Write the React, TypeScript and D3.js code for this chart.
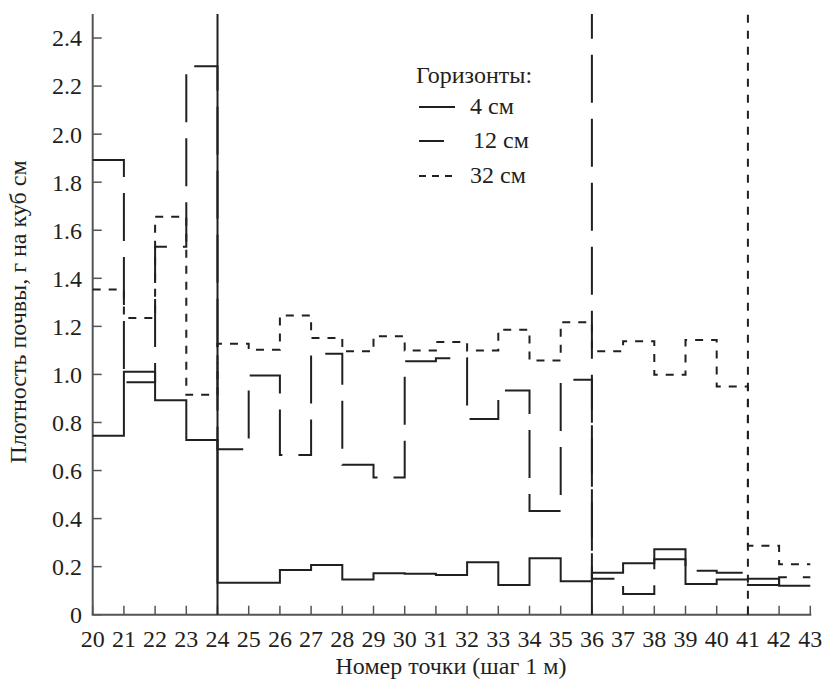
import React from 'react';
import * as d3 from 'd3';

// точки профиля (шаг 1 м)
const points = [20, 21, 22, 23, 24, 25, 26, 27, 28, 29, 30, 31, 32, 33, 34, 35, 36, 37, 38, 39, 40, 41, 42];
const xTicks = [20, 21, 22, 23, 24, 25, 26, 27, 28, 29, 30, 31, 32, 33, 34, 35, 36, 37, 38, 39, 40, 41, 42, 43];
const yTicks = [0, 0.2, 0.4, 0.6, 0.8, 1.0, 1.2, 1.4, 1.6, 1.8, 2.0, 2.2, 2.4];

// плотность почвы по горизонтам, г/куб см
const depth4 = [0.745, 1.011, 0.892, 0.727, 0.133, 0.133, 0.186, 0.207, 0.147, 0.172, 0.170, 0.165, 0.218, 0.124, 0.235, 0.139, 0.175, 0.214, 0.272, 0.128, 0.147, 0.150, 0.121];
const depth12 = [1.892, 0.967, 1.531, 2.283, 0.689, 0.995, 0.665, 1.086, 0.624, 0.571, 1.055, 1.067, 0.814, 0.933, 0.432, 0.978, 0.150, 0.086, 0.231, 0.183, 0.175, 0.124, 0.156];
const depth32 = [1.353, 1.235, 1.656, 0.915, 1.128, 1.103, 1.245, 1.152, 1.096, 1.159, 1.100, 1.135, 1.100, 1.186, 1.058, 1.217, 1.096, 1.138, 0.999, 1.143, 0.950, 0.287, 0.210];

// точки, где значение уходит за верх шкалы
const spikePoints = [24, 36, 41];
const seriesLabels = ['4 см', '12 см', '32 см'];
const dashes = ['none', '48,16', '8,8'];

export default function App() {
  const width = 823;
  const height = 680;
  const ink = '#231f20';
  const txt = {
    fontFamily: "'Liberation Serif', 'Times New Roman', Times, 'DejaVu Serif', serif",
    fontSize: '24px',
    fill: ink,
  };

  const x = d3.scaleLinear().domain([20, 43]).range([92.7, 810.3]);
  const y = d3.scaleLinear().domain([0, 2.5]).range([614.7, 14]);

  const step = d3.line<[number, number]>()
    .x(d => x(d[0]))
    .y(d => y(d[1]))
    .curve(d3.curveStepAfter);

  const series = [depth4, depth12, depth32].map(vals => {
    const pts: [number, number][] = points.map((p, i) => [p, vals[i]]);
    pts.push([43, vals[vals.length - 1]]);
    return pts;
  });

  const legendX = 419;
  const legendRows = [107, 141, 176];
  const legendLen = [36, 25, 38];

  return (
    <svg width={width} height={height} style={{ position: 'absolute', left: 0, top: 0, background: '#fff' }}>
      {/* axes */}
      <line x1={x(20)} x2={x(20)} y1={y(2.5)} y2={y(0)} stroke="#555" strokeWidth={2} />
      <line x1={x(20) - 1} x2={x(43) + 1} y1={y(0)} y2={y(0)} stroke="#555" strokeWidth={2} />
      {xTicks.map(t => (
        <g key={'xt' + t}>
          <line x1={x(t)} x2={x(t)} y1={y(0)} y2={y(0) - 9} stroke="#555" strokeWidth={1.5} />
          <text x={x(t)} y={647} textAnchor="middle" style={txt}>{t}</text>
        </g>
      ))}
      {yTicks.map(t => (
        <g key={'yt' + t}>
          <line x1={x(20)} x2={x(20) + 9} y1={y(t)} y2={y(t)} stroke="#555" strokeWidth={1.5} />
          <text x={82} y={y(t)} dy="0.35em" textAnchor="end" style={txt}>
            {t === 0 ? '0' : t.toFixed(1)}
          </text>
        </g>
      ))}
      <text x={451} y={674} textAnchor="middle" style={txt}>Номер точки (шаг 1 м)</text>
      <text transform={`translate(26,${312}) rotate(-90)`} textAnchor="middle" style={txt}>
        Плотность почвы, г на куб см
      </text>

      {/* series */}
      {series.map((pts, i) => (
        <g key={'s' + i}>
          <path d={step(pts) || ''} fill="none" stroke={ink} strokeWidth={2}
            strokeDasharray={dashes[i]} />
          <line x1={x(spikePoints[i])} x2={x(spikePoints[i])} y1={y(0)} y2={y(2.5)}
            stroke={ink} strokeWidth={2} strokeDasharray={dashes[i]} />
        </g>
      ))}

      {/* legend */}
      <text x={416} y={83} style={txt}>Горизонты:</text>
      {seriesLabels.map((lab, i) => (
        <g key={'lg' + i}>
          <line x1={legendX} x2={legendX + legendLen[i]} y1={legendRows[i]} y2={legendRows[i]}
            stroke={ink} strokeWidth={2} strokeDasharray={i === 2 ? '7,6' : 'none'} />
          <text x={i === 1 ? 473 : 470} y={legendRows[i] + 7} style={txt}>{lab}</text>
        </g>
      ))}
    </svg>
  );
}
